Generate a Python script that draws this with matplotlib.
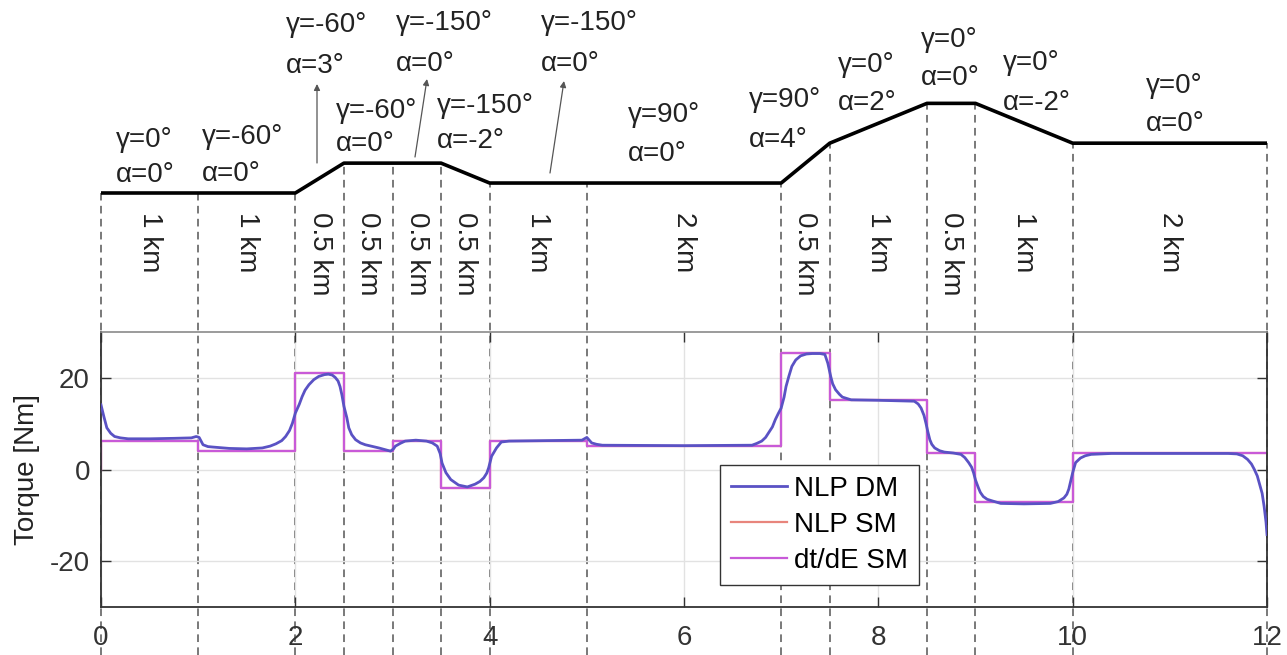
import numpy as np
import matplotlib
matplotlib.use("Agg")
import matplotlib.pyplot as plt

plt.rcParams['font.family'] = ['Liberation Sans', 'DejaVu Sans']
plt.rcParams['axes.unicode_minus'] = False

# ---------------- data ----------------
seg_len_km = [1, 1, 0.5, 0.5, 0.5, 0.5, 1, 2, 0.5, 1, 0.5, 1, 2]
seg_gamma = [0, -60, -60, -60, -150, -150, -150, 90, 90, 0, 0, 0, 0]
seg_alpha = [0, 0, 3, 0, 0, -2, 0, 0, 4, 2, 0, -2, 0]

# step solutions (torque per segment, Nm)
dtde_sm = [6.3, 4.1, 21.0, 4.1, 6.2, -4.0, 6.2, 5.2, 25.5, 15.1, 3.5, -7.1, 3.5]
nlp_sm = [6.3, 4.1, 21.0, 4.1, 6.2, -4.0, 6.2, 5.2, 25.5, 15.1, 3.5, -7.1, 3.5]
step_start = 0.0

# NLP DM (smooth) torque
dm_x = [0.00, 0.03, 0.06, 0.10, 0.14, 0.20, 0.28, 0.50, 0.75, 0.93, 0.98, 1.01, 1.05, 1.10,
        1.15, 1.32, 1.50, 1.66, 1.74, 1.80, 1.86, 1.90, 1.94, 1.97, 2.00, 2.04, 2.07, 2.10,
        2.14, 2.19, 2.24, 2.30, 2.34, 2.38, 2.41, 2.44, 2.46, 2.48, 2.50, 2.53, 2.55, 2.58,
        2.62, 2.67, 2.72, 2.80, 2.86, 2.93, 2.98, 3.01, 3.03, 3.08, 3.13, 3.24, 3.35, 3.41,
        3.46, 3.49, 3.51, 3.55, 3.60, 3.68, 3.77, 3.85, 3.90, 3.94, 3.97, 3.99, 4.02, 4.07,
        4.12, 4.20, 4.60, 4.95, 5.00, 5.05, 5.10, 5.16, 6.00, 6.70, 6.75, 6.80, 6.84, 6.87,
        6.91, 6.94, 6.97, 7.00, 7.03, 7.05, 7.08, 7.11, 7.15, 7.20, 7.26, 7.32, 7.40, 7.45,
        7.48, 7.51, 7.53, 7.56, 7.60, 7.63, 7.72, 8.00, 8.37, 8.41, 8.44, 8.47, 8.49, 8.51,
        8.53, 8.55, 8.58, 8.63, 8.68, 8.77, 8.85, 8.89, 8.93, 8.96, 8.98, 9.00, 9.03, 9.05,
        9.08, 9.12, 9.18, 9.26, 9.50, 9.77, 9.85, 9.91, 9.94, 9.96, 9.98, 10.00, 10.03, 10.08,
        10.13, 10.19, 10.40, 11.00, 11.60, 11.69, 11.75, 11.80, 11.84, 11.87, 11.90, 11.92,
        11.95, 11.97, 11.99, 12.00]
dm_y = [14.1, 11.5, 9.1, 7.9, 7.2, 6.9, 6.7, 6.7, 6.8, 6.9, 7.2, 7.0, 5.4, 5.0,
        4.9, 4.6, 4.5, 4.7, 5.1, 5.6, 6.3, 7.2, 8.5, 10.1, 12.3, 14.2, 15.9, 17.3,
        18.5, 19.6, 20.3, 20.7, 20.8, 20.6, 20.1, 19.3, 18.1, 16.2, 13.8, 11.3, 9.1, 7.6,
        6.5, 5.8, 5.4, 5.0, 4.7, 4.3, 4.0, 4.5, 5.1, 5.7, 6.2, 6.4, 6.2, 5.8,
        5.1, 3.5, 1.4, -0.7, -2.2, -3.4, -3.8, -3.2, -2.6, -1.8, -0.8, 0.4, 2.9, 4.7,
        6.0, 6.2, 6.3, 6.4, 7.0, 5.8, 5.5, 5.3, 5.2, 5.3, 5.7, 6.2, 7.0, 8.0,
        9.3, 10.9, 12.2, 13.4, 15.8, 18.1, 20.4, 22.5, 23.9, 24.8, 25.2, 25.3, 25.3, 25.1,
        23.2, 20.3, 18.7, 17.4, 16.4, 15.8, 15.2, 15.1, 14.9, 14.3, 13.4, 11.8, 10.1, 8.2,
        6.5, 5.5, 4.7, 4.1, 3.8, 3.6, 3.3, 2.6, 1.5, 0.5, -0.7, -2.3, -4.0, -5.0,
        -5.9, -6.5, -6.9, -7.4, -7.5, -7.4, -7.0, -6.2, -5.4, -4.3, -2.5, -0.7, 1.5, 2.5,
        3.0, 3.3, 3.5, 3.5, 3.5, 3.4, 3.0, 2.2, 1.2, 0.0, -1.4, -2.9,
        -5.2, -8.0, -11.5, -14.2]

xticks = [0, 2, 4, 6, 8, 10, 12]
yticks = [-20, 0, 20]
legend_labels = ['NLP DM', 'NLP SM', 'dt/dE SM']

# ---------------- layout ----------------
W, H = 1287, 655
AX_L, AX_R, AX_T, AX_B = 101, 1267, 332, 607
PROFILE_BASE_PX = 193
PX_PER_M = 1.14
FS = 20

fig = plt.figure(figsize=(W / 100, H / 100), dpi=100)
fig.patch.set_facecolor('white')

ov = fig.add_axes([AX_L / W, 0, (AX_R - AX_L) / W, 1], zorder=0)
ov.set_xlim(0, 12)
e_bottom = (PROFILE_BASE_PX - H) / PX_PER_M
e_top = PROFILE_BASE_PX / PX_PER_M
ov.set_ylim(e_bottom, e_top)
ov.axis('off')
ov.patch.set_visible(False)

px2x = lambda px: (px - AX_L) * 12.0 / (AX_R - AX_L)
py2e = lambda py: (PROFILE_BASE_PX - py) / PX_PER_M

bounds = np.concatenate([[0], np.cumsum(seg_len_km)])
elev = np.concatenate([[0], np.cumsum(np.array(seg_len_km) * 1000 * np.tan(np.radians(seg_alpha)))])

# dashed separators
for xb, eb in zip(bounds, elev):
    ov.plot([xb, xb], [e_bottom, eb], color='#555555', lw=1.1,
            linestyle=(0, (5, 3.5)), clip_on=False)
# road profile
ov.plot(bounds, elev, color='black', lw=2.6, solid_capstyle='butt', clip_on=False)

# segment length labels
for i, L in enumerate(seg_len_km):
    xm = 0.5 * (bounds[i] + bounds[i + 1])
    ov.text(xm, py2e(212), f"{L:g} km", rotation=-90, ha='center', va='top',
            fontsize=FS, color='#222222')

# gamma / alpha annotations: (left px, gamma line centre px, alpha line centre px)
ann_layout = [(116, 137, 172), (202, 134, 171), (286, 22, 63), (336, 108, 141),
              (396, 20, 61), (437, 103, 138), (541, 20, 61), (628, 112, 151),
              (749, 97, 137), (838, 62, 100), (921, 37, 75), (1003, 60, 100),
              (1146, 83, 121)]
half_cap = 10
for i, (lx, gy, ay) in enumerate(ann_layout):
    ov.text(px2x(lx), py2e(gy + half_cap), f"γ={seg_gamma[i]}°", ha='left',
            va='baseline', fontsize=FS, color='#222222')
    ov.text(px2x(lx), py2e(ay + half_cap), f"α={seg_alpha[i]}°", ha='left',
            va='baseline', fontsize=FS, color='#222222')

# arrows for the short segments
arrow_layout = [((317, 163), (317, 84)), ((415, 157), (427, 79)), ((550, 173), (564, 81))]
for (p0, p1) in arrow_layout:
    ov.annotate('', xy=(px2x(p1[0]), py2e(p1[1])), xytext=(px2x(p0[0]), py2e(p0[1])),
                arrowprops=dict(arrowstyle='-|>', color='#555555', lw=0.9,
                                mutation_scale=9, shrinkA=0, shrinkB=0),
                annotation_clip=False)

# ---------------- main torque axes ----------------
ax = fig.add_axes([AX_L / W, 1 - AX_B / H, (AX_R - AX_L) / W, (AX_B - AX_T) / H], zorder=1)
ax.patch.set_alpha(0)

step_x = list(bounds)
red_y = [step_start] + nlp_sm + [nlp_sm[-1]]
mag_y = [step_start] + dtde_sm + [dtde_sm[-1]]
h_sm, = ax.plot([0] + step_x, red_y, drawstyle='steps-post', color='#e8857c', lw=1.6, zorder=2)
h_dt, = ax.plot([0] + step_x, mag_y, drawstyle='steps-post', color='#c85ad8', lw=1.6, zorder=2.5)
h_dm, = ax.plot(dm_x, dm_y, color='#5a52c4', lw=2.0, zorder=4)

ax.set_xlim(0, 12)
ax.set_ylim(-30, 30)
ax.set_xticks(xticks)
ax.set_yticks(yticks)
ax.grid(True, color='#e2e2e2', lw=1.0)
ax.set_axisbelow(True)
ax.tick_params(direction='in', length=7, width=1.0, top=True, right=True,
               colors='#333333', labelsize=FS)
ax.tick_params(axis='x', pad=13)
ax.tick_params(axis='y', pad=8)
for s in ['left', 'bottom', 'right']:
    ax.spines[s].set_color('#333333')
    ax.spines[s].set_linewidth(1.3)
ax.spines['top'].set_color('#8a8a8a')
ax.spines['top'].set_linewidth(1.2)

ax.set_ylabel('Torque [Nm]', fontsize=FS, color='#222222')
ax.yaxis.set_label_coords((40 - AX_L) / (AX_R - AX_L), 0.5)

leg = ax.legend([h_dm, h_sm, h_dt], legend_labels, loc='lower left',
                bbox_to_anchor=((720 - AX_L) / (AX_R - AX_L), (AX_B - 585) / (AX_B - AX_T)),
                fontsize=FS, frameon=True, fancybox=False, framealpha=1,
                edgecolor='#333333', handlelength=2.0, handletextpad=0.25,
                labelspacing=0.36, borderpad=0.4, borderaxespad=0)
leg.get_frame().set_linewidth(1.0)
leg.set_zorder(10)

fig.savefig('out.png', dpi=100, facecolor='white')
